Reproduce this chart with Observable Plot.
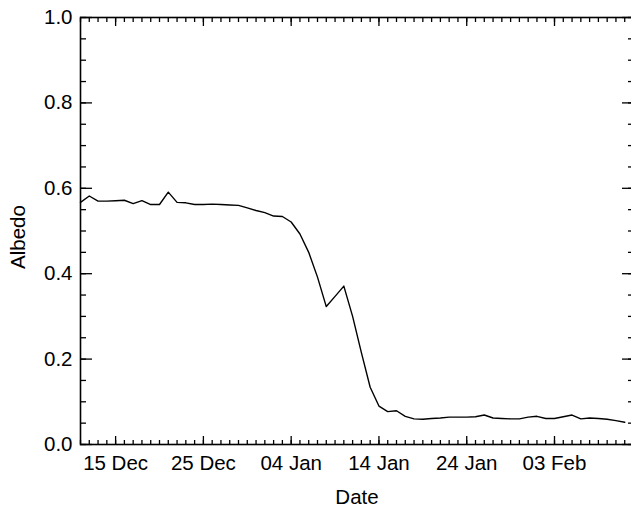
<!DOCTYPE html>
<html><head><meta charset="utf-8">
<script src="https://cdn.jsdelivr.net/npm/d3@7"></script>
<script src="https://cdn.jsdelivr.net/npm/@observablehq/plot@0.6"></script>
<style>html,body{margin:0;padding:0;background:#fff;overflow:hidden;}</style>
</head><body><div id="chart"></div>
<script>
const dates = [
  "2003-12-11","2003-12-12","2003-12-13","2003-12-14","2003-12-15","2003-12-16","2003-12-17","2003-12-18",
  "2003-12-19","2003-12-20","2003-12-21","2003-12-22","2003-12-23","2003-12-24","2003-12-25","2003-12-26",
  "2003-12-27","2003-12-28","2003-12-29","2003-12-30","2003-12-31","2004-01-01","2004-01-02","2004-01-03",
  "2004-01-04","2004-01-05","2004-01-06","2004-01-07","2004-01-08","2004-01-09","2004-01-10","2004-01-11",
  "2004-01-12","2004-01-13","2004-01-14","2004-01-15","2004-01-16","2004-01-17","2004-01-18","2004-01-19",
  "2004-01-20","2004-01-21","2004-01-22","2004-01-23","2004-01-24","2004-01-25","2004-01-26","2004-01-27",
  "2004-01-28","2004-01-29","2004-01-30","2004-01-31","2004-02-01","2004-02-02","2004-02-03","2004-02-04",
  "2004-02-05","2004-02-06","2004-02-07","2004-02-08","2004-02-09","2004-02-10","2004-02-11"
];
const albedo = [
  0.567,0.582,0.570,0.570,0.571,0.572,0.564,0.571,
  0.562,0.562,0.591,0.567,0.566,0.562,0.562,0.563,
  0.562,0.561,0.560,0.554,0.548,0.543,0.535,0.534,
  0.521,0.493,0.450,0.392,0.323,0.347,0.371,0.300,
  0.215,0.134,0.090,0.077,0.079,0.066,0.060,0.059,
  0.061,0.062,0.064,0.064,0.064,0.065,0.069,0.062,
  0.061,0.060,0.060,0.064,0.066,0.061,0.061,0.065,
  0.069,0.060,0.062,0.061,0.059,0.056,0.052
];
const xDomain = ["2003-12-11","2004-02-12"];
const xMajorTicks = ["2003-12-15","2003-12-25","2004-01-04","2004-01-14","2004-01-24","2004-02-03"];
const xMajorLabels = ["15 Dec","25 Dec","04 Jan","14 Jan","24 Jan","03 Feb"];
const yMajorTicks = [0,0.2,0.4,0.6,0.8,1.0];
const yMajorLabels = ["0.0","0.2","0.4","0.6","0.8","1.0"];
const yMinorTicks = [0,0.05,0.1,0.15,0.2,0.25,0.3,0.35,0.4,0.45,0.5,0.55,0.6,0.65,0.7,0.75,0.8,0.85,0.9,0.95,1.0];
const xLabel = "Date";
const yLabel = "Albedo";

const parse = d3.utcParse("%Y-%m-%d");
const data = dates.map((d, i) => ({date: parse(d), albedo: albedo[i]}));
const xMaj = xMajorTicks.map(parse);
const xMin = d3.utcDay.range(parse(xDomain[0]), d3.utcDay.offset(parse(xDomain[1]), 1));
const xLab = new Map(xMaj.map((d, i) => [+d, xMajorLabels[i]]));
const yLab = new Map(yMajorTicks.map((d, i) => [d, yMajorLabels[i]]));
const blank = () => "";
const tw = 1.3;

const chart = Plot.plot({
  width: 631,
  height: 509,
  marginLeft: 80,
  marginRight: -2,
  marginTop: 17,
  marginBottom: 65,
  style: {fontFamily: "'Liberation Sans', Arial, Helvetica, sans-serif", fontSize: "20.5px", color: "black", background: "white"},
  x: {type: "utc", domain: xDomain.map(parse)},
  y: {domain: [0, 1]},
  marks: [
    // bottom axis: minor ticks, major ticks, labels
    Plot.axisX({anchor: "bottom", ticks: xMin, tickSize: -4, tickFormat: blank, label: null, strokeWidth: tw}),
    Plot.axisX({anchor: "bottom", ticks: xMaj, tickSize: -8, tickFormat: blank, label: null, strokeWidth: tw}),
    Plot.axisX({anchor: "bottom", ticks: xMaj, tickSize: 0, tickPadding: 11, tickFormat: d => xLab.get(+d), label: null}),
    // top axis
    Plot.axisX({anchor: "top", ticks: xMin, tickSize: -4, tickFormat: blank, label: null, strokeWidth: tw}),
    Plot.axisX({anchor: "top", ticks: xMaj, tickSize: -8, tickFormat: blank, label: null, strokeWidth: tw}),
    // left axis
    Plot.axisY({anchor: "left", ticks: yMinorTicks, tickSize: -6, tickFormat: blank, label: null, strokeWidth: tw}),
    Plot.axisY({anchor: "left", ticks: yMajorTicks, tickSize: -12, tickFormat: blank, label: null, strokeWidth: tw}),
    Plot.axisY({anchor: "left", ticks: yMajorTicks, tickSize: 0, tickPadding: 8, tickFormat: d => yLab.get(d), label: null}),
    // right axis
    Plot.axisY({anchor: "right", ticks: yMinorTicks, tickSize: -6, tickFormat: blank, label: null, strokeWidth: tw}),
    Plot.axisY({anchor: "right", ticks: yMajorTicks, tickSize: -12, tickFormat: blank, label: null, strokeWidth: tw}),
    // axis titles
    Plot.text([xLabel], {frameAnchor: "bottom", dy: 59, lineAnchor: "bottom", textAnchor: "middle", text: d => d, fill: "black"}),
    Plot.text([yLabel], {frameAnchor: "left", dx: -70, dy: 6, rotate: -90, lineAnchor: "top", textAnchor: "middle", text: d => d, fill: "black"}),
    Plot.frame({stroke: "black", strokeWidth: 1.6}),
    Plot.line(data, {x: "date", y: "albedo", stroke: "black", strokeWidth: 1.4})
  ]
});
document.getElementById("chart").appendChild(chart);
</script>
</body></html>
